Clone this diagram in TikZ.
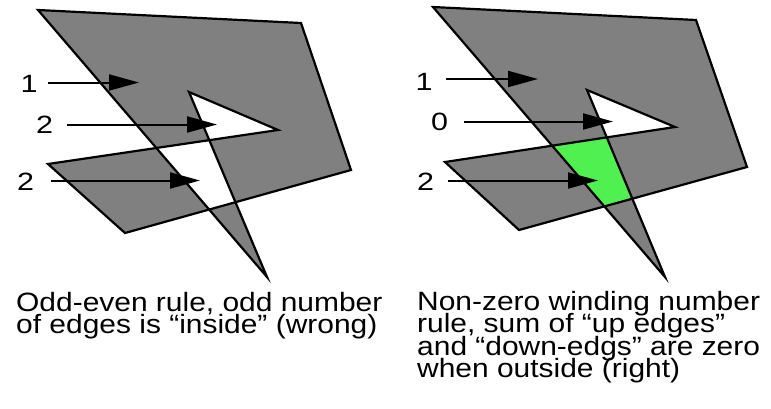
\documentclass[tikz,border=0pt]{standalone}
\usepackage{fontspec}
\setmainfont{Liberation Sans}[FakeStretch=1.22]
\newfontfamily\capfont{Liberation Sans}[FakeStretch=1.13]
\usetikzlibrary{arrows.meta}
\definecolor{polygray}{RGB}{128,128,128}
\definecolor{wgreen}{RGB}{80,240,80}
\tikzset{
  poly/.style={draw=black, line width=2.2pt, line join=miter},
  ptr/.style={draw=black, line width=2pt, -{Triangle[length=30pt,width=16pt]}},
  num/.style={anchor=base, inner sep=0pt, font=\fontsize{25}{22.7}\selectfont},
  captxt/.style={anchor=base west, inner sep=0pt, text height=18pt, text depth=3pt,
    font=\capfont\fontsize{26.5}{22.7}\selectfont},
}
\begin{document}
\begin{tikzpicture}[x=1pt,y=-1pt]
\useasboundingbox (0,0) rectangle (771,408);
% ---------- left polygon (even-odd) ----------
\coordinate (A) at (38,10);
\coordinate (B) at (301,23);
\coordinate (C) at (351,170);
\coordinate (D) at (125,233);
\coordinate (E) at (48,164);
\coordinate (F) at (278,130);
\coordinate (G) at (189,92);
\coordinate (H) at (267,277);
\fill[polygray, even odd rule] (A) -- (B) -- (C) -- (D) -- (E) -- (F) -- (G) -- (H) -- cycle;
\draw[poly] (A) -- (B) -- (C) -- (D) -- (E) -- (F) -- (G) -- (H) -- cycle;
% ---------- right polygon (non-zero) ----------
\coordinate (A2) at (433,7);
\coordinate (B2) at (696,20);
\coordinate (C2) at (747,167);
\coordinate (D2) at (519,230);
\coordinate (E2) at (445,162);
\coordinate (F2) at (675,127);
\coordinate (G2) at (587,90);
\coordinate (H2) at (665,277);
\fill[polygray, nonzero rule] (A2) -- (B2) -- (C2) -- (D2) -- (E2) -- (F2) -- (G2) -- (H2) -- cycle;
\coordinate (Q1) at (intersection of A2--H2 and E2--F2);
\coordinate (Q2) at (intersection of G2--H2 and E2--F2);
\coordinate (Q3) at (intersection of G2--H2 and D2--C2);
\coordinate (Q4) at (intersection of A2--H2 and D2--C2);
\fill[wgreen] (Q1) -- (Q2) -- (Q3) -- (Q4) -- cycle;
\draw[poly] (A2) -- (B2) -- (C2) -- (D2) -- (E2) -- (F2) -- (G2) -- (H2) -- cycle;
% ---------- left labels and arrows ----------
\node[num] (l1) at (29,92) {1};
\node[num] (l2) at (44.5,133) {2};
\node[num] (l3) at (25.5,190) {2};
\coordinate (l1s) at (48,82.5);   \coordinate (l1e) at (139,82.5);
\coordinate (l2s) at (67,124.5);  \coordinate (l2e) at (217,124.5);
\coordinate (l3s) at (51,180.5);  \coordinate (l3e) at (200,180.5);
\draw[ptr] (l1s) -- (l1e);
\draw[ptr] (l2s) -- (l2e);
\draw[ptr] (l3s) -- (l3e);
% ---------- right labels and arrows ----------
\node[num] (r1) at (424,90) {1};
\node[num] (r2) at (439.5,130) {0};
\node[num] (r3) at (425.5,190) {2};
\coordinate (r1s) at (446,79);    \coordinate (r1e) at (538,79);
\coordinate (r2s) at (464,121.5); \coordinate (r2e) at (613,121.5);
\coordinate (r3s) at (448,180.5); \coordinate (r3e) at (598,180.5);
\draw[ptr] (r1s) -- (r1e);
\draw[ptr] (r2s) -- (r2e);
\draw[ptr] (r3s) -- (r3e);
% ---------- captions ----------
\node[captxt] (c1) at (16,311) {Odd-even rule, odd number};
\node[captxt] (c2) at (16,333.5) {of edges is “inside” (wrong)};
\node[captxt] (d1) at (417,310) {Non-zero winding number};
\node[captxt] (d2) at (417,332.5) {rule, sum of “up edges”};
\node[captxt] (d3) at (417,355) {and “down-edgs” are zero};
\node[captxt] (d4) at (417,377.5) {when outside (right)};
\end{tikzpicture}
\end{document}
